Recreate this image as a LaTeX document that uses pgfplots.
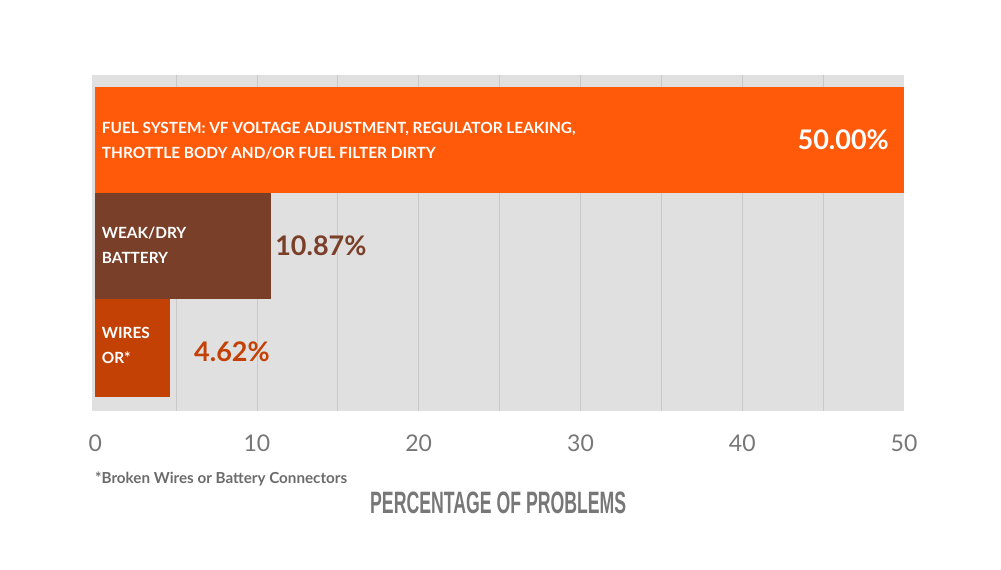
\documentclass[border=0pt]{standalone}
\usepackage{fontspec}
\setmainfont{Lato}
\newfontfamily\titlefont{Liberation Sans}
\usepackage{graphicx}
\usepackage{pgfplots}
\pgfplotsset{compat=1.18}

\definecolor{fuel}{HTML}{FF5A0A}
\definecolor{battery}{HTML}{7A3F28}
\definecolor{wires}{HTML}{C34105}
\definecolor{panel}{HTML}{E0E0E0}
\definecolor{gridc}{HTML}{C8C8C8}
\definecolor{ticktext}{HTML}{777777}
\definecolor{foottext}{HTML}{6B6B6B}

\newcommand\valuefont{\fontsize{27}{27}\selectfont\bfseries}
\newcommand\catfont{\fontsize{15.4}{15}\selectfont\bfseries}

\begin{document}
\begin{tikzpicture}
\path[use as bounding box] (0pt,0pt) rectangle (1001pt,570pt);
\begin{axis}[
  at={(92pt,159pt)}, anchor=south west,
  scale only axis, width=812pt, height=336pt,
  bar width=1,
  xmin=-0.2, xmax=50,
  ymin=-0.613, ymax=2.557, y dir=reverse,
  ytick=\empty,
  xtick={0,10,...,50},
  extra x ticks={5,10,...,45},
  extra x tick labels={},
  extra x tick style={grid=major},
  major grid style={gridc, line width=0.8pt},
  major tick length=0pt,
  axis line style={draw=none},
  axis background/.style={fill=panel},
  /pgf/number format/assume math mode=true,
  xticklabel style={font=\fontsize{23}{23}\selectfont, text=ticktext,
    anchor=base, inner sep=0pt, yshift=-40.7pt},
  clip=false,
]
\addplot[xbar, fill=fuel, draw=none,
  nodes near coords, point meta=explicit symbolic,
  every node near coord/.append style={anchor=east, xshift=-15pt,
    inner sep=0pt, text=white, font=\valuefont}]
  coordinates {(50,0) [50.00\%]};
\addplot[xbar, fill=battery, draw=none,
  nodes near coords, point meta=explicit symbolic,
  every node near coord/.append style={anchor=west, xshift=4pt,
    inner sep=0pt, text=battery, font=\valuefont}]
  coordinates {(10.87,1) [10.87\%]};
\addplot[xbar, fill=wires, draw=none, bar width=0.925, bar shift=-0.038,
  nodes near coords, point meta=explicit symbolic,
  every node near coord/.append style={anchor=west, xshift=24pt,
    inner sep=0pt, text=wires, font=\valuefont}]
  coordinates {(4.62,2) [4.62\%]};
\end{axis}

% category names inside the bars
\begin{scope}[every node/.style={anchor=base west, inner sep=0pt, text=white, font=\catfont}]
\node at (101.7pt,436.7pt) {FUEL SYSTEM: VF VOLTAGE ADJUSTMENT, REGULATOR LEAKING,};
\node at (101.7pt,411.7pt) {THROTTLE BODY AND/OR FUEL FILTER DIRTY};
\node at (101.7pt,331.7pt) {WEAK/DRY};
\node at (101.7pt,306.7pt) {BATTERY};
\node at (101.7pt,231pt) {WIRES};
\node at (101.7pt,206pt) {OR*};
\end{scope}

\node[anchor=base west, inner sep=0pt, text=foottext,
  font=\fontsize{15.2}{15}\selectfont\bfseries] at (95pt,86pt)
  {*Broken Wires or Battery Connectors};
\node[anchor=south west, inner sep=0pt, text=ticktext] at (370pt,55.7pt)
  {\resizebox{256pt}{21.6pt}{\titlefont\bfseries PERCENTAGE OF PROBLEMS}};
\end{tikzpicture}
\end{document}
